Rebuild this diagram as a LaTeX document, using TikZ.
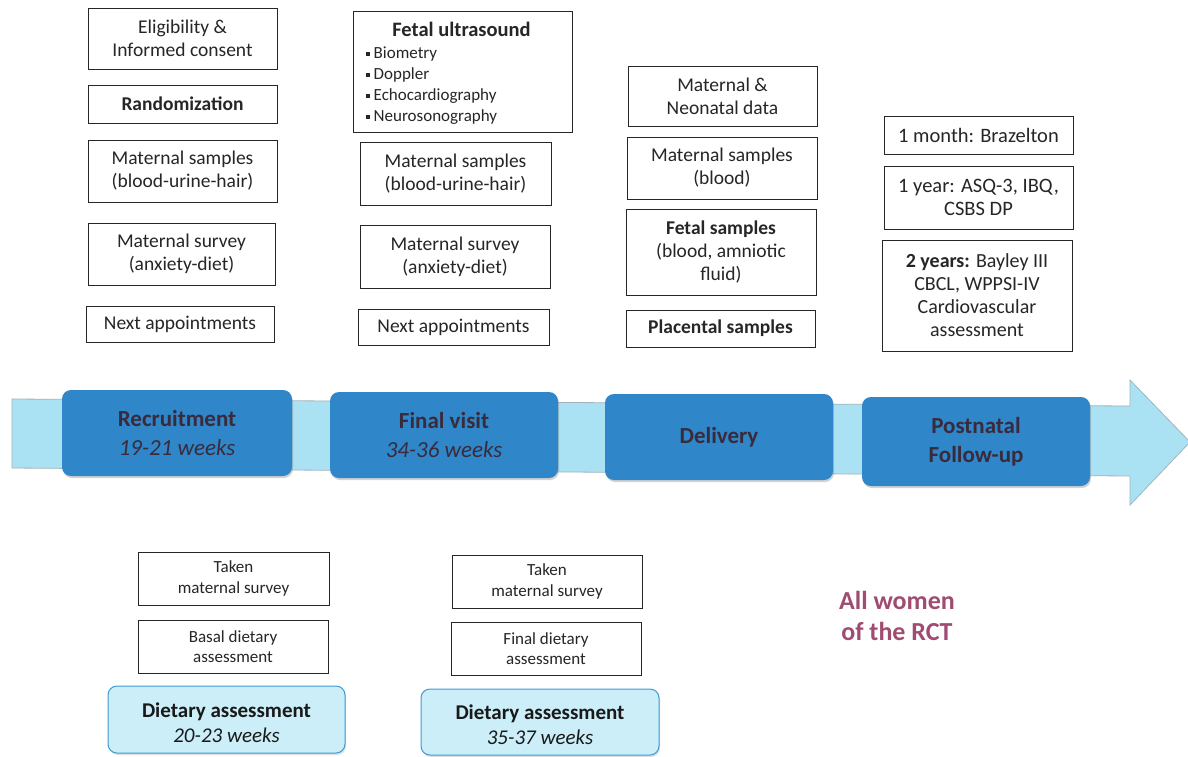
\documentclass[tikz,border=0pt]{standalone}
\usepackage{fontspec}
\setmainfont{Carlito}
\usetikzlibrary{shadows}
\definecolor{txt}{HTML}{262626}
\definecolor{bandfill}{HTML}{ABE2F3}
\definecolor{bandline}{HTML}{9FB4BD}
\definecolor{stageblue}{HTML}{2F86C8}
\definecolor{stagetxt}{HTML}{3A2B3C}
\definecolor{dietfill}{HTML}{CBEEF8}
\definecolor{dietline}{HTML}{3E9AD6}
\definecolor{rctcol}{HTML}{A04C72}
\tikzset{
  wbox/.style={draw=black!85, line width=0.8pt, fill=white, inner sep=0pt, align=center, text=txt,
    font=\fontsize{19.5}{23}\selectfont},
  sbox/.style={draw=black!85, line width=0.8pt, fill=white, inner sep=0pt, align=center, text=txt,
    font=\fontsize{17}{20.5}\selectfont},
  stage/.style={fill=stageblue, rounded corners=9pt, inner sep=0pt, align=center, text=stagetxt,
    font=\fontsize{23}{29}\selectfont,
    drop shadow={opacity=0.35, shadow xshift=1pt, shadow yshift=-2pt}},
  diet/.style={draw=dietline, line width=1pt, fill=dietfill, rounded corners=9pt, inner sep=0pt,
    align=center, text=black!90, font=\fontsize{21}{25}\selectfont,
    drop shadow={opacity=0.25, shadow xshift=1pt, shadow yshift=-2pt}},
}
\newcommand{\sqb}{\raisebox{3pt}{\rule{3.5pt}{3.5pt}}\hspace{4pt}}
\newcommand{\dietlines}[2]{\raisebox{-5pt}[\height][\depth]{\begin{tabular}{@{}c@{}}\bfseries #1\\ \itshape #2\end{tabular}}}
\begin{document}
\begin{tikzpicture}[x=1pt,y=-1pt]
\useasboundingbox (0,0) rectangle (1188,756);
\fill[white] (0,0) rectangle (1188,756);

% timeline arrow
\filldraw[fill=bandfill, draw=bandline, line width=0.8pt]
  (12,399) -- (1130,406) -- (1130,380) -- (1190,442) -- (1130,505) -- (1130,476) -- (12,468) -- cycle;

% stages
\node[stage, minimum width=230, minimum height=86] (rec) at (177,433)
  {\bfseries Recruitment\\ \itshape 19-21 weeks};
\node[stage, minimum width=228, minimum height=86] (fin) at (444,435)
  {\bfseries Final visit\\ \itshape 34-36 weeks};
\node[stage, minimum width=228, minimum height=86] (del) at (719,437)
  {\bfseries Delivery};
\node[stage, minimum width=228, minimum height=89] (post) at (976,441.5)
  {\bfseries Postnatal\\ \bfseries Follow-up};

% column 1
\node[wbox, minimum width=189, minimum height=61] (elig) at (182.5,38.5) {Eligibility \&\\ Informed consent};
\node[wbox, minimum width=189, minimum height=38] (rand) at (182.5,104) {\bfseries Randomization};
\node[wbox, minimum width=189, minimum height=62] (ms1) at (182.5,171) {Maternal samples\\ (blood-urine-hair)};
\node[wbox, minimum width=187, minimum height=62] (msv1) at (181.5,254) {Maternal survey\\ (anxiety-diet)};
\node[wbox, minimum width=188, minimum height=36] (next1) at (180,324) {Next appointments};

% column 2
\node[wbox, minimum width=219, minimum height=121] (fus) at (462.5,71.5) {};
\node[text=txt, font=\fontsize{20.5}{22}\selectfont\bfseries, inner sep=0pt] (fust) at (461.5,29) {Fetal ultrasound};
\node[text=txt, font=\fontsize{17}{21}\selectfont, align=left, anchor=north west, inner sep=0pt] (fusl) at (366,47)
  {\sqb Biometry\\ \sqb Doppler\\ \sqb Echocardiography\\ \sqb Neurosonography};
\node[wbox, minimum width=191, minimum height=63] (ms2) at (455.5,173.5) {Maternal samples\\ (blood-urine-hair)};
\node[wbox, minimum width=190, minimum height=63] (msv2) at (455,256.5) {Maternal survey\\ (anxiety-diet)};
\node[wbox, minimum width=191, minimum height=36] (next2) at (453.5,327) {Next appointments};

% column 3
\node[wbox, minimum width=189, minimum height=60] (mnd) at (722.5,96) {Maternal \&\\ Neonatal data};
\node[wbox, minimum width=190, minimum height=62] (ms3) at (722,168) {Maternal samples\\ (blood)};
\node[wbox, minimum width=190, minimum height=86] (fs) at (721,252) {\bfseries Fetal samples\\ (blood, amniotic\\ fluid)};
\node[wbox, minimum width=189, minimum height=37] (ps) at (720.5,328.5) {\bfseries Placental samples};

% column 4
\node[wbox, font=\fontsize{20.5}{23}\selectfont, minimum width=189, minimum height=38] (m1) at (978.5,135) {1 month: Brazelton};
\node[wbox, font=\fontsize{20.5}{23}\selectfont, minimum width=189, minimum height=63] (y1) at (978.5,197.5) {1 year: ASQ-3, IBQ,\\ CSBS DP};
\node[wbox, font=\fontsize{20}{23}\selectfont, minimum width=190, minimum height=111] (y2) at (977,295.5)
  {\textbf{2 years:} Bayley III\\ CBCL, WPPSI-IV\\ Cardiovascular\\ assessment};

% bottom
\node[sbox, minimum width=191, minimum height=53] (tms1) at (233.5,578.5) {Taken\\ maternal survey};
\node[sbox, minimum width=190, minimum height=53] (bda) at (233,646.5) {Basal dietary\\ assessment};
\node[diet, minimum width=237, minimum height=67] (da1) at (226.5,719.5) {\dietlines{Dietary assessment}{20-23 weeks}};
\node[sbox, minimum width=190, minimum height=53] (tms2) at (547,581.5) {Taken\\ maternal survey};
\node[sbox, minimum width=190, minimum height=53] (fda) at (546,648.5) {Final dietary\\ assessment};
\node[diet, minimum width=238, minimum height=66] (da2) at (540,722) {\dietlines{Dietary assessment}{35-37 weeks}};

\node[text=rctcol, font=\fontsize{26}{31}\selectfont\bfseries, align=center, inner sep=0pt] (rct) at (897,616)
  {All women\\ of the RCT};
\end{tikzpicture}
\end{document}
